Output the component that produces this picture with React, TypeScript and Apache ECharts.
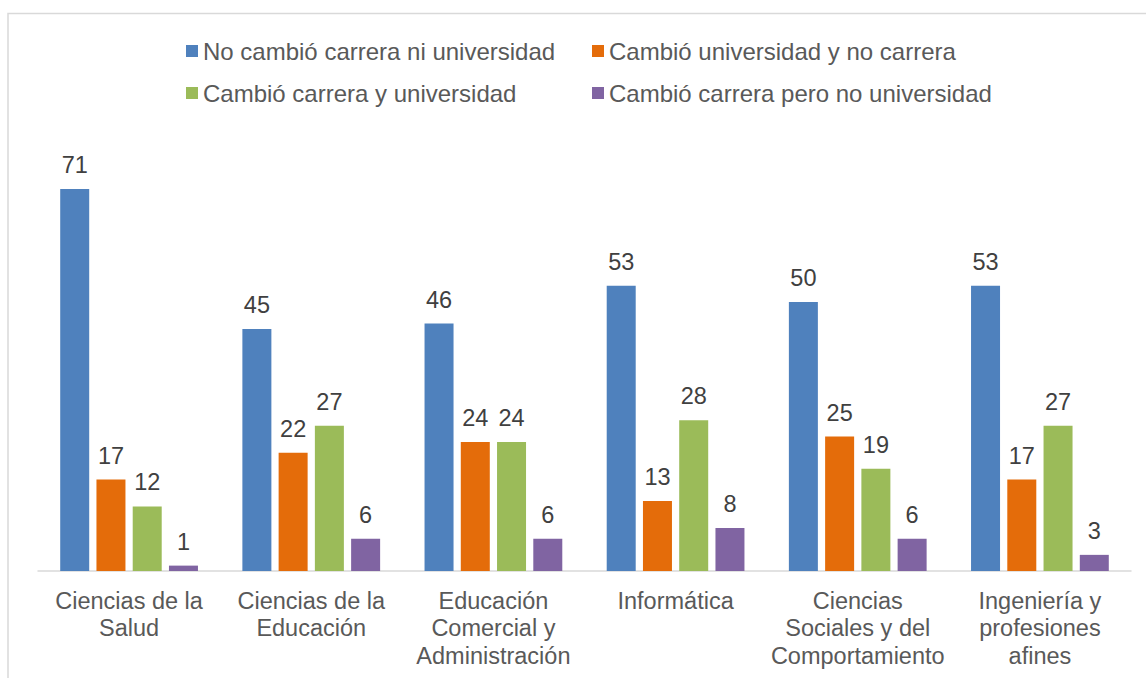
import React, { useEffect, useRef } from "react";
import * as echarts from "echarts";

const categories = [
  "Ciencias de la\nSalud",
  "Ciencias de la\nEducación",
  "Educación\nComercial y\nAdministración",
  "Informática",
  "Ciencias\nSociales y del\nComportamiento",
  "Ingeniería y\nprofesiones\nafines",
];

const seriesNames = [
  "No cambió carrera ni universidad",
  "Cambió universidad y no carrera",
  "Cambió carrera y universidad",
  "Cambió carrera pero no universidad",
];

const noCambio = [71, 45, 46, 53, 50, 53];
const cambioUniversidad = [17, 22, 24, 13, 25, 17];
const cambioAmbos = [12, 27, 24, 28, 19, 27];
const cambioCarrera = [1, 6, 6, 8, 6, 3];

const colors = ["#4F81BD", "#E46C0A", "#9BBB59", "#8064A2"];

const FONT = "'Liberation Sans', Arial, sans-serif";
const FS = 23.5;

export default function App() {
  const ref = useRef<HTMLDivElement>(null);

  useEffect(() => {
    document.body.style.margin = "0";
    if (!ref.current) return;
    const chart = echarts.init(ref.current, null, { renderer: "svg" });
    const values = [noCambio, cambioUniversidad, cambioAmbos, cambioCarrera];
    const legendPos = [
      { left: 186, top: 39 },
      { left: 592, top: 39 },
      { left: 186, top: 81 },
      { left: 592, top: 81 },
    ];
    chart.setOption({
      animation: false,
      backgroundColor: "#ffffff",
      graphic: [
        {
          type: "rect",
          shape: { x: 8, y: 13.5, width: 1200, height: 700 },
          style: { fill: "none", stroke: "#d9d9d9", lineWidth: 1.5 },
          silent: true,
        },
      ],
      legend: seriesNames.map((n, i) => ({
        data: [n],
        left: legendPos[i].left,
        top: legendPos[i].top,
        padding: 0,
        icon: "rect",
        itemWidth: 12,
        itemHeight: 12,
        selectedMode: false,
        textStyle: {
          fontFamily: FONT,
          fontSize: 24,
          color: "#595959",
          lineHeight: 24,
        },
      })),
      grid: { left: 38, right: 15, top: 140.6, bottom: 107 },
      xAxis: {
        type: "category",
        data: categories,
        axisLine: { show: true, lineStyle: { color: "#d9d9d9", width: 1.5 } },
        axisTick: { show: false },
        axisLabel: {
          interval: 0,
          margin: 16,
          fontFamily: FONT,
          fontSize: FS,
          lineHeight: 27.5,
          color: "#595959",
        },
      },
      yAxis: {
        type: "value",
        min: 0,
        max: 80,
        show: false,
        splitLine: { show: false },
      },
      series: seriesNames.map((n, i) => ({
        name: n,
        type: "bar",
        data: values[i],
        barWidth: 29,
        barGap: "25%",
        itemStyle: { color: colors[i] },
        label: {
          show: true,
          position: "top",
          distance: 12,
          fontFamily: FONT,
          fontSize: FS,
          color: "#404040",
        },
      })),
    });
    return () => chart.dispose();
  }, []);

  return <div ref={ref} style={{ width: 1146, height: 678 }} />;
}
